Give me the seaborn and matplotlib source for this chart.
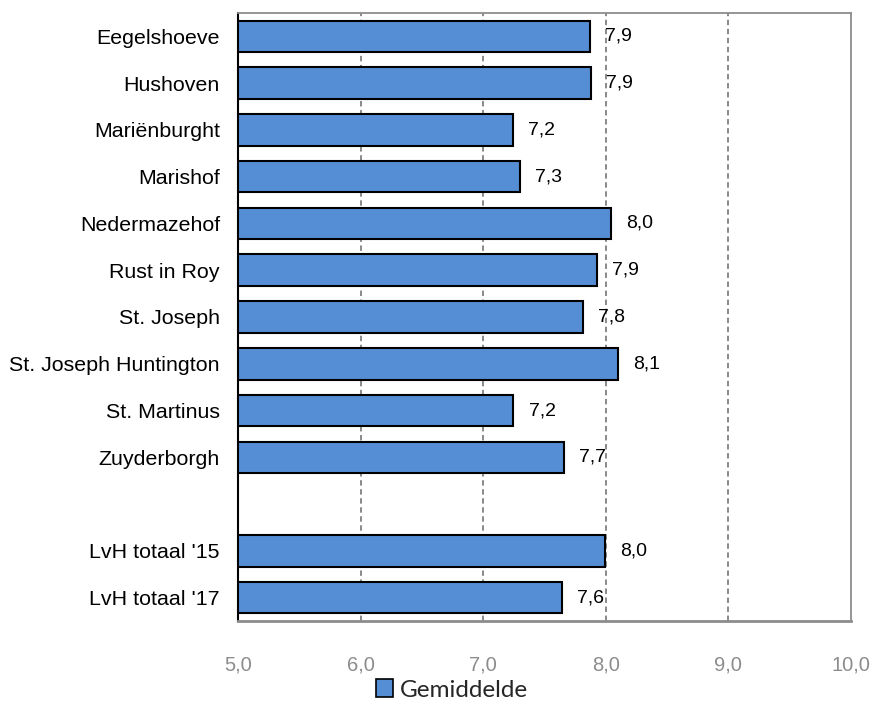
import numpy as np
import pandas as pd
import matplotlib
matplotlib.use('Agg')
import matplotlib.pyplot as plt
import seaborn as sns
from matplotlib.patches import Patch

# --- DATA ---
locaties = ['Eegelshoeve', 'Hushoven', 'Mariënburght', 'Marishof', 'Nedermazehof',
            'Rust in Roy', 'St. Joseph', 'St. Joseph Huntington', 'St. Martinus',
            'Zuyderborgh', "LvH totaal '15", "LvH totaal '17"]
gemiddelde = [7.87, 7.88, 7.24, 7.30, 8.045, 7.925, 7.81, 8.10, 7.245, 7.66, 7.99, 7.64]
x_ticks = [5.0, 6.0, 7.0, 8.0, 9.0, 10.0]
legend_label = 'Gemiddelde'

# lege regel tussen de locaties en de totalen
order = locaties[:10] + [' '] + locaties[10:]
df = pd.DataFrame({'locatie': locaties, 'score': gemiddelde})

sns.set_style('white')
plt.rcParams['font.family'] = ['Liberation Sans', 'DejaVu Sans']

fig = plt.figure(figsize=(8.72, 7.11), dpi=100)
ax = fig.add_axes([238 / 872, 1 - 621 / 711, (851 - 238) / 872, (621 - 13) / 711])

bar_color = '#558ED5'
sns.barplot(data=df, x='score', y='locatie', order=order, orient='h',
            color=bar_color, saturation=1, edgecolor='black', linewidth=1.5,
            width=0.675, ax=ax)

ax.set_xlim(5, 10)
ax.set_xticks(x_ticks)
ax.set_xticklabels([f'{t:.1f}'.replace('.', ',') for t in x_ticks])
ax.set_xlabel('')
ax.set_ylabel('')

# rasterlijnen
for t in x_ticks[1:-1]:
    ax.axvline(t, color='#808080', linestyle=(0, (3, 2)), linewidth=1.3, zorder=0)

# assen
for side in ['top', 'right', 'bottom']:
    ax.spines[side].set_color('#8c8c8c')
    ax.spines[side].set_linewidth(1.3)
ax.spines['bottom'].set_linewidth(2)
ax.spines['left'].set_color('black')
ax.spines['left'].set_linewidth(1.5)

ax.tick_params(axis='x', length=0, pad=25, labelsize=14.5, labelcolor='#8c8c8c')
ax.tick_params(axis='y', length=0, pad=13, labelsize=15.4, labelcolor='black')

# datalabels
for i, (loc, val) in enumerate(zip(locaties, gemiddelde)):
    y = order.index(loc)
    ax.annotate(f'{val:.1f}'.replace('.', ','), xy=(val, y), xytext=(11, 0),
                textcoords='offset points', va='center', ha='left', fontsize=14,
                color='black')

handles = [Patch(facecolor=bar_color, edgecolor='black', linewidth=1.2)]
fig.legend(handles, [legend_label], loc='center', bbox_to_anchor=(452 / 872, 1 - 690 / 711),
           frameon=False, prop={'family': 'Lato', 'size': 17.5}, handlelength=0.7,
           handleheight=0.7, handletextpad=0.3)

fig.savefig('out.png', dpi=100)
